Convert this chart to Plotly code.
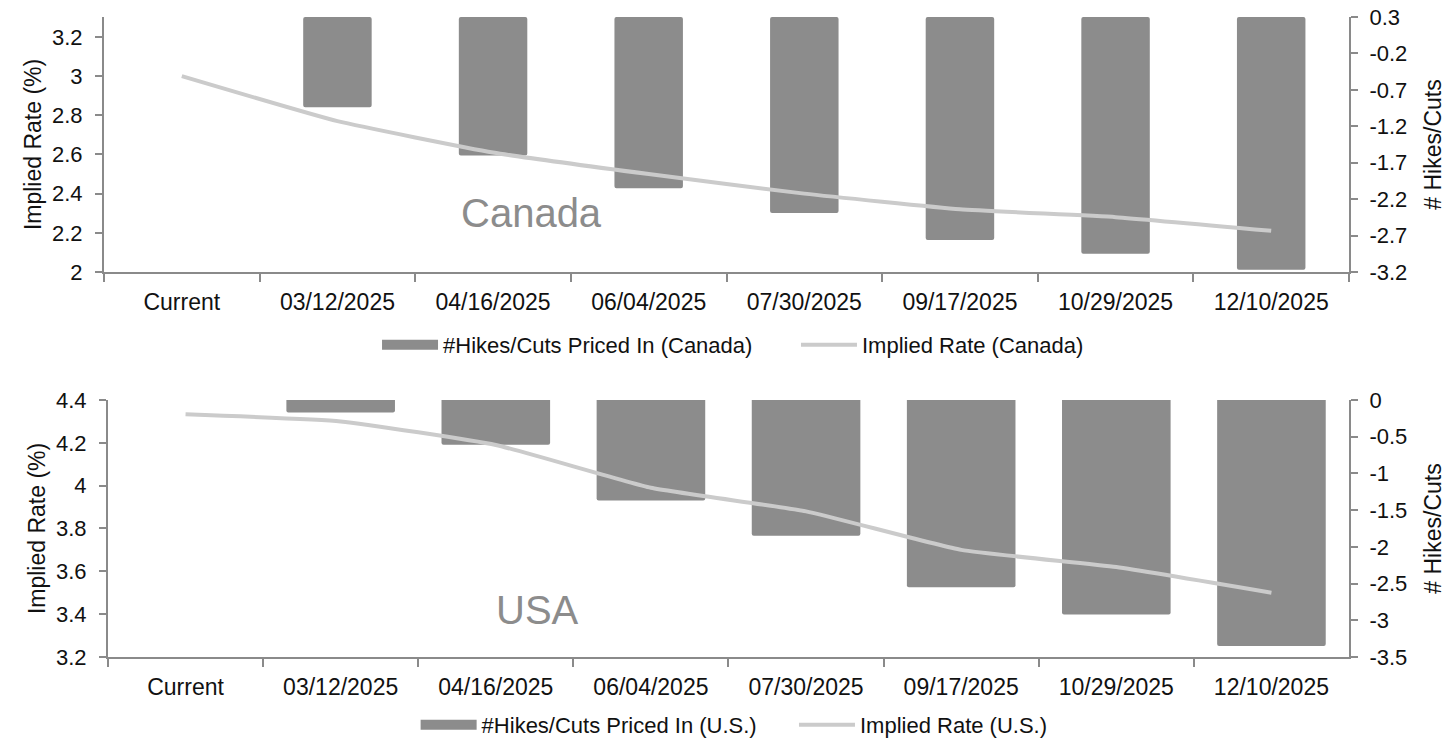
import plotly.graph_objects as go
from plotly.subplots import make_subplots

categories = ["Current", "03/12/2025", "04/16/2025", "06/04/2025", "07/30/2025",
              "09/17/2025", "10/29/2025", "12/10/2025"]

# Canada
ca_hikes = [None, -0.94, -1.60, -2.05, -2.39, -2.76, -2.95, -3.17]
ca_rate = [3.00, 2.77, 2.61, 2.50, 2.40, 2.32, 2.28, 2.21]
ca_bar_base = 0.3

# USA
us_hikes = [None, -0.17, -0.61, -1.37, -1.85, -2.55, -2.92, -3.35]
us_rate = [4.333, 4.30, 4.19, 3.99, 3.88, 3.70, 3.62, 3.50]

ca_left_ticks = [2, 2.2, 2.4, 2.6, 2.8, 3, 3.2]
ca_left_text = ["2", "2.2", "2.4", "2.6", "2.8", "3", "3.2"]
ca_right_ticks = [0.3, -0.2, -0.7, -1.2, -1.7, -2.2, -2.7, -3.2]
ca_right_text = ["0.3", "-0.2", "-0.7", "-1.2", "-1.7", "-2.2", "-2.7", "-3.2"]
us_left_ticks = [3.2, 3.4, 3.6, 3.8, 4, 4.2, 4.4]
us_left_text = ["3.2", "3.4", "3.6", "3.8", "4", "4.2", "4.4"]
us_right_ticks = [0, -0.5, -1, -1.5, -2, -2.5, -3, -3.5]
us_right_text = ["0", "-0.5", "-1", "-1.5", "-2", "-2.5", "-3", "-3.5"]

BAR = "#8c8c8c"
LINE = "#cbcbcb"
AX = "#8a8a8a"
TXT = "#111111"
FONT = "Liberation Sans"

fig = make_subplots(rows=2, cols=1,
                    specs=[[{"secondary_y": True}], [{"secondary_y": True}]])

# Canada: bars on primary (right side), line on secondary (left side) so the line is drawn on top
fig.add_trace(go.Bar(x=categories,
                     y=[None if v is None else v - ca_bar_base for v in ca_hikes],
                     base=ca_bar_base, name="#Hikes/Cuts Priced In (Canada)",
                     marker=dict(color=BAR, line=dict(width=0), cornerradius=2),
                     width=0.44, showlegend=False),
              row=1, col=1, secondary_y=False)
fig.add_trace(go.Scatter(x=[None], y=[None], mode="lines",
                         name="#Hikes/Cuts Priced In (Canada)",
                         line=dict(color=BAR, width=16), legend="legend"),
              row=1, col=1, secondary_y=False)
fig.add_trace(go.Scatter(x=categories, y=ca_rate, mode="lines",
                         name="Implied Rate (Canada)",
                         line=dict(color=LINE, width=4, shape="spline", smoothing=0.4),
                         legend="legend2"),
              row=1, col=1, secondary_y=True)

fig.add_trace(go.Bar(x=categories, y=us_hikes, name="#Hikes/Cuts Priced In (U.S.)",
                     marker=dict(color=BAR, line=dict(width=0), cornerradius=2),
                     width=0.70, showlegend=False),
              row=2, col=1, secondary_y=False)
fig.add_trace(go.Scatter(x=[None], y=[None], mode="lines",
                         name="#Hikes/Cuts Priced In (U.S.)",
                         line=dict(color=BAR, width=16), legend="legend3"),
              row=2, col=1, secondary_y=False)
fig.add_trace(go.Scatter(x=categories, y=us_rate, mode="lines",
                         name="Implied Rate (U.S.)",
                         line=dict(color=LINE, width=4, shape="spline", smoothing=0.4),
                         legend="legend4"),
              row=2, col=1, secondary_y=True)

xcommon = dict(showline=True, linecolor=AX, linewidth=2, ticks="outside",
               tickson="boundaries", tickcolor=AX, ticklen=8, tickwidth=2,
               showgrid=False, tickfont=dict(size=23, color=TXT),
               ticklabelstandoff=8, range=[-0.5, 7.5], automargin=False)
ycommon = dict(showline=True, linecolor=AX, linewidth=2, ticks="outside",
               tickcolor=AX, ticklen=7, tickwidth=2, showgrid=False, zeroline=False,
               tickfont=dict(size=22, color=TXT), automargin=False,
               ticklabeloverflow="allow")
ttl = dict(size=23, color=TXT)

fig.update_layout(
    xaxis=dict(**xcommon, anchor="y", domain=[0, 1]),
    xaxis2=dict(**xcommon, anchor="y3", domain=[0.0032, 1]),
    # Canada
    yaxis=dict(**ycommon, domain=[0.6016, 1], range=[-3.2, 0.3], side="right",
               tickvals=ca_right_ticks, ticktext=ca_right_text, ticklabelstandoff=7,
               title=dict(text="# Hikes/Cuts", font=ttl, standoff=19)),
    yaxis2=dict(**ycommon, range=[2, 3.302], tickvals=ca_left_ticks, ticktext=ca_left_text,
                overlaying="y", side="left", anchor="x", ticklabelstandoff=8,
                title=dict(text="Implied Rate (%)", font=ttl, standoff=4)),
    # USA
    yaxis3=dict(**ycommon, domain=[0, 0.4016], range=[-3.5, 0], side="right",
                tickvals=us_right_ticks, ticktext=us_right_text, ticklabelstandoff=7,
                title=dict(text="# Hikes/Cuts", font=ttl, standoff=19)),
    yaxis4=dict(**ycommon, range=[3.2, 4.4], tickvals=us_left_ticks, ticktext=us_left_text,
                overlaying="y3", side="left", anchor="x2", ticklabelstandoff=8,
                title=dict(text="Implied Rate (%)", font=ttl, standoff=4)),
)

leg = dict(orientation="h", xanchor="left", yanchor="middle",
           font=dict(size=22, color=TXT), itemwidth=56, bgcolor="rgba(0,0,0,0)")

fig.update_layout(
    width=1456, height=744,
    margin=dict(l=104, r=107, t=17, b=87, autoexpand=False),
    plot_bgcolor="white", paper_bgcolor="white",
    font=dict(family=FONT, color=TXT, size=21),
    legend=dict(**leg, x=0.2193, y=0.4875),
    legend2=dict(**leg, x=0.5558, y=0.4875),
    legend3=dict(**leg, x=0.2503, y=-0.106),
    legend4=dict(**leg, x=0.5542, y=-0.106),
    annotations=[
        dict(text="Canada", x=2.25, y=2.30, xref="x", yref="y2", showarrow=False,
             font=dict(size=40, color="#8c8c8c", family=FONT)),
        dict(text="USA", x=2.27, y=3.42, xref="x2", yref="y4", showarrow=False,
             font=dict(size=40, color="#8c8c8c", family=FONT)),
    ],
)

fig.write_html("out.html",
               config={"displayModeBar": False},
               post_script="document.body.style.margin='0';document.body.style.overflow='hidden';")
